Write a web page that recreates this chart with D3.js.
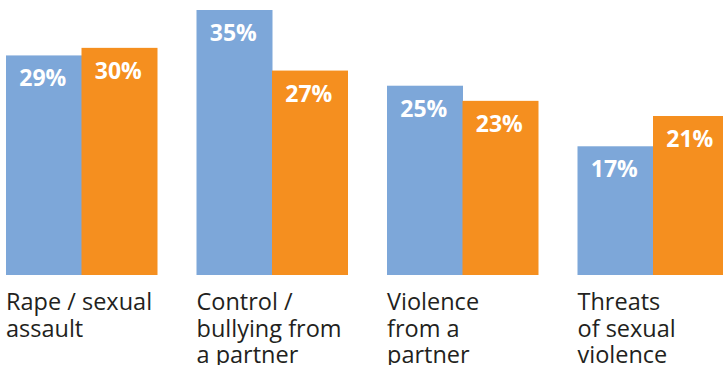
<!DOCTYPE html>
<html>
<head>
<meta charset="utf-8">
<script src="https://cdn.jsdelivr.net/npm/d3@7"></script>
<style>
  html, body { margin: 0; padding: 0; background: #fff; }
  svg { display: block; }
</style>
</head>
<body>
<svg id="chart"></svg>
<script>
// categories, each split into its printed lines
var categories = ['rape', 'control', 'violence', 'threats'];
var categoryLines = [
    ['Rape / sexual', 'assault'],
    ['Control /', 'bullying from', 'a partner'],
    ['Violence', 'from a', 'partner'],
    ['Threats', 'of sexual', 'violence']
];
var series = ['a', 'b'];
var seriesA = [29, 35, 25, 17];
var seriesB = [30, 27, 23, 21];

var width = 723, height = 365;
var colors = { a: '#7da7d9', b: '#f58f1f' };

var svg = d3.select('#chart')
    .attr('width', width)
    .attr('height', height);

var x0 = d3.scaleBand()
    .domain(categories)
    .range([6, 728.5])
    .paddingInner(39.5 / 190.5)
    .paddingOuter(0);

var x1 = d3.scaleBand()
    .domain(series)
    .range([0, x0.bandwidth()]);

var y = d3.scaleLinear()
    .domain([0, 35])
    .range([275, 10]);

var rows = categories.map(function(c, i) {
    return { key: c, lines: categoryLines[i], values: [
        { s: 'a', v: seriesA[i] },
        { s: 'b', v: seriesB[i] }
    ] };
});

var group = svg.selectAll('g.group')
    .data(rows)
    .enter()
    .append('g')
    .attr('class', 'group')
    .attr('transform', function(d) { return 'translate(' + x0(d.key) + ',0)'; });

group.selectAll('rect')
    .data(function(d) { return d.values; })
    .enter()
    .append('rect')
    .attr('x', function(d) { return x1(d.s); })
    .attr('y', function(d) { return y(d.v); })
    .attr('width', x1.bandwidth() + 0.5)
    .attr('height', function(d) { return y(0) - y(d.v); })
    .attr('fill', function(d) { return colors[d.s]; });

group.selectAll('text.value')
    .data(function(d) { return d.values; })
    .enter()
    .append('text')
    .attr('class', 'value')
    .attr('x', function(d) { return x1(d.s) + x1.bandwidth() / 2 - 1; })
    .attr('y', function(d) { return y(d.v) + 31; })
    .attr('text-anchor', 'middle')
    .attr('fill', '#fff')
    .style('font-family', '"Open Sans", sans-serif')
    .style('font-weight', 700)
    .style('font-size', '23px')
    .text(function(d) { return d.v + '%'; });

// category labels below the bars
var label = group.append('text')
    .attr('x', 0)
    .attr('y', 310)
    .attr('fill', '#231f20')
    .style('font-family', '"Open Sans", sans-serif')
    .style('font-size', '23.5px');

label.selectAll('tspan')
    .data(function(d) { return d.lines; })
    .enter()
    .append('tspan')
    .attr('x', 0)
    .attr('y', function(d, i) { return 310 + i * 26.5; })
    .text(function(d) { return d; });
</script>
</body>
</html>
